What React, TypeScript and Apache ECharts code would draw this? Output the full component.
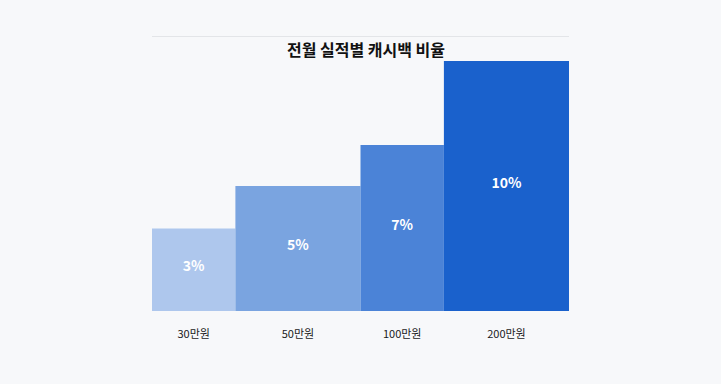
import React, { useEffect, useRef } from "react";
import * as echarts from "echarts";

const categories = ["30만원", "50만원", "100만원", "200만원"];
const rates = [3, 5, 7, 10];
const barHeights = [33, 50, 66.4, 100];
const barWidths = [2, 3, 2, 3];
const colors = ["#aec7ed", "#7aa4e0", "#4b83d7", "#1a61cc"];
const titleText = "전월 실적별 캐시백 비율";

export default function App() {
  const ref = useRef<HTMLDivElement>(null);
  useEffect(() => {
    if (!ref.current) return;
    const chart = echarts.init(ref.current, undefined, { renderer: "svg" });
    const font = "'Noto Sans CJK KR', 'Noto Sans', sans-serif";
    let acc = 0;
    const data = categories.map((c, i) => {
      const start = acc;
      acc += barWidths[i];
      return [start, acc, barHeights[i], rates[i], i];
    });
    chart.setOption({
      animation: false,
      backgroundColor: "#f7f8fa",
      title: {
        text: titleText,
        left: 361,
        textAlign: "center",
        top: 36,
        textStyle: { fontSize: 16, fontWeight: "bold", color: "#111111", fontFamily: font },
      },
      graphic: [
        {
          type: "line",
          shape: { x1: 152, y1: 36.5, x2: 569, y2: 36.5 },
          style: { stroke: "#e3e5e8", lineWidth: 1 },
        },
      ],
      grid: { left: 152, right: 152, top: 61, bottom: 73 },
      xAxis: { type: "value", min: 0, max: acc, show: false, splitLine: { show: false } },
      yAxis: { type: "value", min: 0, max: 100, show: false, splitLine: { show: false } },
      series: [
        {
          type: "custom",
          data,
          encode: { x: [0, 1], y: 2 },
          renderItem: (params: any, api: any) => {
            const s = api.value(0);
            const e = api.value(1);
            const h = api.value(2);
            const r = api.value(3);
            const idx = api.value(4);
            const p0 = api.coord([s, 0]);
            const p1 = api.coord([e, h]);
            const cx = (p0[0] + p1[0]) / 2;
            const cy = (p0[1] + p1[1]) / 2;
            return {
              type: "group",
              children: [
                {
                  type: "rect",
                  shape: { x: p0[0], y: p1[1], width: p1[0] - p0[0], height: p0[1] - p1[1] },
                  style: { fill: colors[idx] },
                },
                {
                  type: "text",
                  x: cx,
                  y: cy - 4.5,
                  style: {
                    text: r + "%",
                    fill: "#ffffff",
                    font: "bold 14px " + font,
                    align: "center",
                    verticalAlign: "middle",
                  },
                },
                {
                  type: "text",
                  x: cx,
                  y: p0[1] + 22,
                  style: {
                    text: categories[idx],
                    fill: "#1a1a1a",
                    font: "11px " + font,
                    align: "center",
                    verticalAlign: "middle",
                  },
                },
              ],
            };
          },
        },
      ],
    });
    return () => chart.dispose();
  }, []);
  return (
    <div
      ref={ref}
      style={{ position: "fixed", left: 0, top: 0, width: 721, height: 384 }}
    />
  );
}
